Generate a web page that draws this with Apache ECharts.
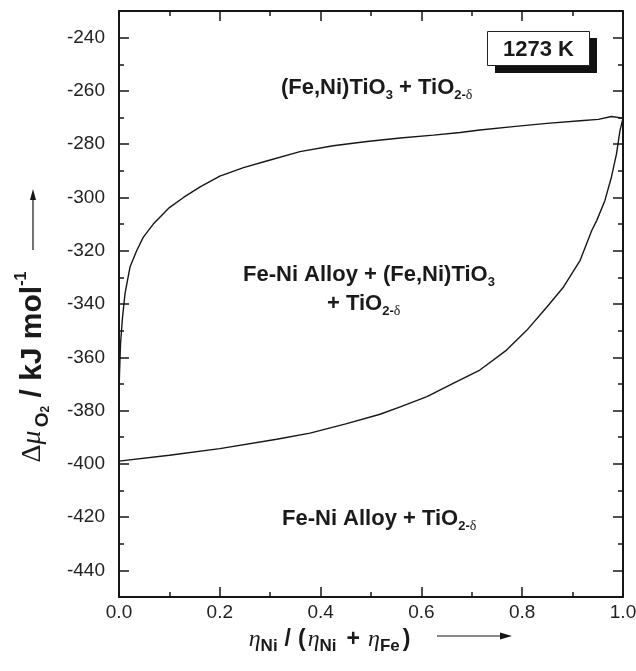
<!DOCTYPE html>
<html><head><meta charset="utf-8">
<script src="https://cdn.jsdelivr.net/npm/echarts@6/dist/echarts.min.js"></script>
<style>html,body{margin:0;padding:0;background:#fff}#c{width:636px;height:671px}</style>
</head><body><div id="c"></div>
<script>
// ---- data ----
const upperX = [0, 0.003, 0.007, 0.012, 0.022, 0.035, 0.048, 0.068, 0.1, 0.128, 0.161, 0.2, 0.247, 0.293, 0.359, 0.425, 0.492, 0.558, 0.624, 0.677, 0.716, 0.782, 0.849, 0.915, 0.951, 0.977, 1.0];
const upperY = [-372, -355, -345, -336, -326, -320, -315, -310, -303.8, -300, -296, -292, -288.8, -286.3, -282.8, -280.6, -279, -277.7, -276.6, -275.6, -274.7, -273.4, -272.2, -271.2, -270.7, -269.6, -270.2];
const lowerX = [0, 0.1, 0.2, 0.313, 0.379, 0.45, 0.518, 0.558, 0.611, 0.663, 0.716, 0.769, 0.809, 0.849, 0.882, 0.915, 0.938, 0.948, 0.964, 0.977, 0.987, 0.994, 1.0];
const lowerY = [-399, -396.8, -394.3, -390.8, -388.5, -385, -381.4, -378.6, -374.8, -369.8, -364.8, -357.3, -349.9, -341.1, -333.6, -323.6, -312.4, -308.6, -301.2, -292.4, -283.7, -274.9, -270.2];
const xTickLabels = [0.0, 0.2, 0.4, 0.6, 0.8, 1.0];
const xMinorTicks = [0.1, 0.3, 0.5, 0.7, 0.9];
const yTickLabels = [-440, -420, -400, -380, -360, -340, -320, -300, -280, -260, -240];
const yMinorTicks = [-450, -430, -410, -390, -370, -350, -330, -310, -290, -270, -250, -230];
const xRange = [0, 1];
const yRange = [-450, -230];

const INK = '#161616';
const SANS = 'Liberation Sans, Arial, Helvetica, sans-serif';
const SERIF = 'Liberation Serif, Times New Roman, serif';

function xAx(pos, ticks, len, showLine, showLabel) {
  return {
    type: 'value', position: pos, min: xRange[0], max: xRange[1],
    axisLine: { show: showLine, onZero: false, lineStyle: { color: INK, width: 2 } },
    axisTick: { show: true, inside: true, length: len, customValues: ticks, lineStyle: { color: INK, width: 1.5 } },
    axisLabel: { show: showLabel, customValues: ticks, formatter: v => Number(v).toFixed(1), fontSize: 19, color: '#222', fontFamily: SANS, margin: 6 },
    splitLine: { show: false }
  };
}
function yAx(pos, ticks, len, showLine, showLabel) {
  return {
    type: 'value', position: pos, min: yRange[0], max: yRange[1],
    axisLine: { show: showLine, onZero: false, lineStyle: { color: INK, width: 2 } },
    axisTick: { show: true, inside: true, length: len, customValues: ticks, lineStyle: { color: INK, width: 1.5 } },
    axisLabel: { show: showLabel, customValues: ticks, fontSize: 19, color: '#222', fontFamily: SANS, margin: 14 },
    splitLine: { show: false }
  };
}

const chart = echarts.init(document.getElementById('c'), null, { renderer: 'canvas' });

const C = '#1a1a1a';
const richPhase = {
  b: { fontSize: 22, fontWeight: 'bold', fontFamily: SANS, color: C, lineHeight: 28, verticalAlign: 'middle' },
  s: { fontSize: 13, fontWeight: 'bold', fontFamily: SANS, color: C, lineHeight: 8, verticalAlign: 'bottom' },
  d: { fontSize: 14, fontFamily: SERIF, color: C, lineHeight: 8, verticalAlign: 'bottom' }
};

function label(x, y, text) {
  return { type: 'text', left: x, top: y - 14, style: { text: text, rich: richPhase, fill: C }, z: 10 };
}

chart.setOption({
  animation: false,
  backgroundColor: '#fff',
  grid: { left: 119, right: 13, top: 11, bottom: 74, containLabel: false, outerBoundsMode: 'none' },
  xAxis: [
    xAx('bottom', xTickLabels, 10, true, true),
    xAx('bottom', xMinorTicks, 5, false, false),
    xAx('top', xTickLabels, 10, true, false),
    xAx('top', xMinorTicks, 5, false, false)
  ],
  yAxis: [
    yAx('left', yTickLabels, 10, true, true),
    yAx('left', yMinorTicks, 5, false, false),
    yAx('right', yTickLabels, 10, true, false),
    yAx('right', yMinorTicks, 5, false, false)
  ],
  series: [
    { type: 'line', xAxisIndex: 0, yAxisIndex: 0, showSymbol: false, silent: true,
      lineStyle: { color: INK, width: 1.4 }, data: upperX.map((x, i) => [x, upperY[i]]) },
    { type: 'line', xAxisIndex: 0, yAxisIndex: 0, showSymbol: false, silent: true,
      lineStyle: { color: INK, width: 1.4 }, data: lowerX.map((x, i) => [x, lowerY[i]]) }
  ],
  graphic: [
    label(281, 91, '{b|(Fe,Ni)TiO}{s|3}{b| + TiO}{s|2-}{d|δ}'),
    label(243, 278, '{b|Fe-Ni Alloy + (Fe,Ni)TiO}{s|3}'),
    label(327, 307, '{b|+ TiO}{s|2-}{d|δ}'),
    label(282, 522, '{b|Fe-Ni Alloy + TiO}{s|2-}{d|δ}'),
    // 1273 K box
    { type: 'rect', shape: { x: 495, y: 38, width: 102, height: 35 }, style: { fill: '#111' }, z: 10 },
    { type: 'rect', shape: { x: 487.5, y: 31.5, width: 102, height: 34 }, style: { fill: '#fff', stroke: '#222', lineWidth: 1 }, z: 11 },
    { type: 'text', x: 538.5, y: 49.5, style: { text: '1273 K', fontSize: 22, fontWeight: 'bold', fontFamily: SANS, fill: C, align: 'center', verticalAlign: 'middle' }, z: 12 },
    // y axis title (rotated)
    { type: 'text', x: 33, y: 367, rotation: Math.PI / 2,
      style: {
        text: '{g|Δ}{gi|μ}{os|O}{o2|2}{b| / kJ mol}{sup|-1}',
        align: 'center', verticalAlign: 'middle',
        rich: {
          g: { fontSize: 28, fontFamily: SERIF, fill: C, lineHeight: 38, verticalAlign: 'middle' },
          gi: { fontSize: 28, fontFamily: SERIF, fontStyle: 'italic', fill: C, lineHeight: 38, verticalAlign: 'middle' },
          os: { fontSize: 19, fontWeight: 'bold', fontFamily: SANS, fill: C, lineHeight: 20, verticalAlign: 'bottom', padding: [0, 0, 0, 3] },
          o2: { fontSize: 12, fontWeight: 'bold', fontFamily: SANS, fill: C, lineHeight: 10, verticalAlign: 'bottom' },
          b: { fontSize: 30, fontWeight: 'bold', fontFamily: SANS, fill: C, lineHeight: 38, verticalAlign: 'middle' },
          sup: { fontSize: 16, fontWeight: 'bold', fontFamily: SANS, fill: C, lineHeight: 14, verticalAlign: 'top' }
        }
      }, z: 10 },
    { type: 'line', shape: { x1: 33, y1: 250, x2: 33, y2: 198 }, style: { stroke: INK, lineWidth: 1.2 }, z: 10 },
    { type: 'polygon', shape: { points: [[33, 189], [30, 200], [36, 200]] }, style: { fill: INK }, z: 10 },
    // x axis title
    { type: 'text', left: 248.7, top: 628,
      style: {
        text: '{gi|η}{ns|Ni}{b|/}{p|(}{gi2|η}{ns|Ni}{pl|+}{gi3|η}{ns|Fe}{pr|)}',
        rich: {
          gi: { fontSize: 24, fontFamily: SERIF, fontStyle: 'italic', fill: C, lineHeight: 30, verticalAlign: 'middle' },
          gi2: { fontSize: 24, fontFamily: SERIF, fontStyle: 'italic', fill: C, lineHeight: 30, verticalAlign: 'middle', padding: [0, 0, 0, 2] },
          gi3: { fontSize: 24, fontFamily: SERIF, fontStyle: 'italic', fill: C, lineHeight: 30, verticalAlign: 'middle', padding: [0, 0, 0, 8] },
          ns: { fontSize: 17, fontWeight: 'bold', fontFamily: SANS, fill: C, lineHeight: 6, verticalAlign: 'bottom' },
          b: { fontSize: 23, fontWeight: 'bold', fontFamily: SANS, fill: C, lineHeight: 30, verticalAlign: 'middle', padding: [0, 0, 0, 7] },
          p: { fontSize: 23, fontWeight: 'bold', fontFamily: SANS, fill: C, lineHeight: 30, verticalAlign: 'middle', padding: [0, 0, 0, 7] },
          pl: { fontSize: 23, fontWeight: 'bold', fontFamily: SANS, fill: C, lineHeight: 30, verticalAlign: 'middle', padding: [0, 0, 0, 10] },
          pr: { fontSize: 23, fontWeight: 'bold', fontFamily: SANS, fill: C, lineHeight: 30, verticalAlign: 'middle', padding: [0, 0, 0, 3] }
        }
      }, z: 10 },
    { type: 'line', shape: { x1: 437, y1: 636, x2: 502, y2: 636 }, style: { stroke: INK, lineWidth: 1.2 }, z: 10 },
    { type: 'polygon', shape: { points: [[512, 636], [500, 632.5], [500, 639.5]] }, style: { fill: INK }, z: 10 }
  ]
});
</script></body></html>
